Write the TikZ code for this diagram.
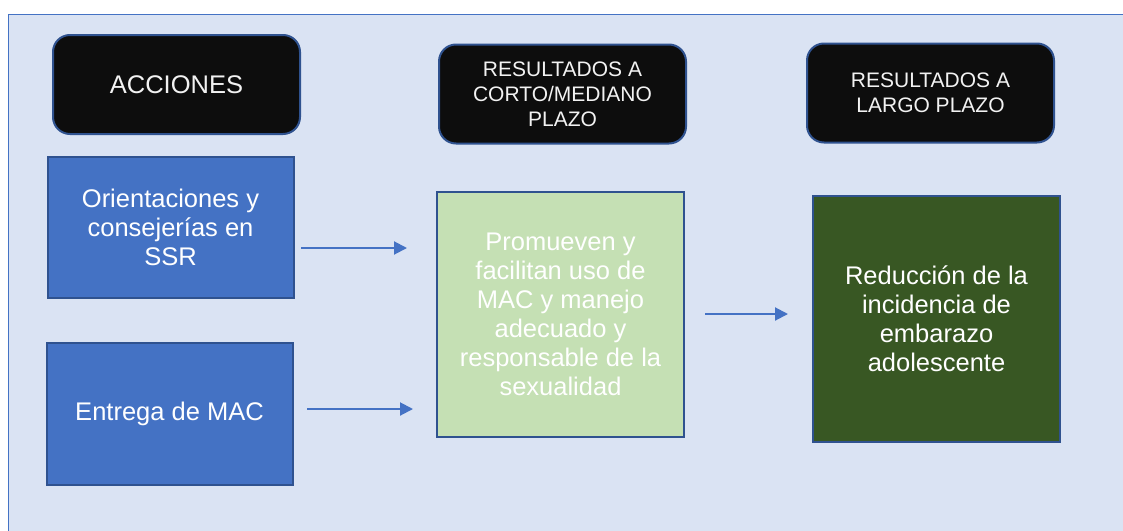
\documentclass[tikz,border=0pt]{standalone}
\usepackage{fontspec}
\setmainfont{Liberation Sans}
\usetikzlibrary{arrows.meta}
\definecolor{framefill}{HTML}{DAE3F3}
\definecolor{frameline}{HTML}{4472C4}
\definecolor{boxline}{HTML}{2F528F}
\definecolor{headfill}{HTML}{0D0D0D}
\definecolor{bluefill}{HTML}{4472C4}
\definecolor{lightgreen}{HTML}{C5E0B4}
\definecolor{darkgreen}{HTML}{385723}
\definecolor{arrowcol}{HTML}{4472C4}
\definecolor{headtext}{HTML}{F2F2F2}
\begin{document}
\begin{tikzpicture}[x=1pt,y=-1pt,
  header/.style={draw=boxline, line width=2pt, fill=headfill, rounded corners=17pt,
    minimum width=247pt, minimum height=99pt, inner sep=0pt, text=headtext, align=center},
  bigtext/.style={font=\fontsize{25.5}{29}\selectfont},
  smalltext/.style={font=\fontsize{21}{25}\selectfont},
  bluebox/.style={draw=boxline, line width=2pt, fill=bluefill, minimum width=246pt,
    inner sep=0pt, text=white, align=center, bigtext},
  greenbox/.style={draw=boxline, line width=2pt, fill=lightgreen, minimum width=247pt,
    minimum height=245pt, inner sep=0pt, text=white, align=center, bigtext},
  dgreenbox/.style={draw=boxline, line width=2pt, fill=darkgreen, minimum width=247pt,
    minimum height=246pt, inner sep=0pt, text=white, align=center, bigtext},
  link/.style={draw=arrowcol, line width=2pt, -{Triangle[length=13pt,width=13pt]}}
]
\useasboundingbox (0,0) rectangle (1123,530);
\clip (0,0) rectangle (1123,530);
\fill[white] (0,0) rectangle (1123,530);
\draw[fill=framefill, draw=frameline, line width=1.5pt] (8.5,14.5) rectangle (1140,545);

\node[header, bigtext] (h1) at (176.5,84.5) {ACCIONES};
\node[header, smalltext] (h2) at (562.5,94) {RESULTADOS A\\CORTO/MEDIANO\\PLAZO};
\node[header, smalltext] (h3) at (930.5,93) {RESULTADOS A\\LARGO PLAZO};

\node[bluebox, minimum height=141pt] (b1) at (170.5,227.5) {Orientaciones y\\consejerías en\\SSR};
\node[bluebox, minimum height=142pt] (b2) at (169.5,414) {Entrega de MAC};

\node[greenbox] (g1) at (560.5,314.5) {Promueven y\\facilitan uso de\\MAC y manejo\\adecuado y\\responsable de la\\sexualidad};
\node[dgreenbox] (g2) at (936.5,318.5) {Reducción de la\\incidencia de\\embarazo\\adolescente};

\coordinate (a1s) at (301,248);
\coordinate (a1e) at (407,248);
\coordinate (a2s) at (307,409);
\coordinate (a2e) at (413,409);
\coordinate (a3s) at (705,314);
\coordinate (a3e) at (788,314);
\draw[link] (a1s) -- (a1e);
\draw[link] (a2s) -- (a2e);
\draw[link] (a3s) -- (a3e);
\end{tikzpicture}
\end{document}
